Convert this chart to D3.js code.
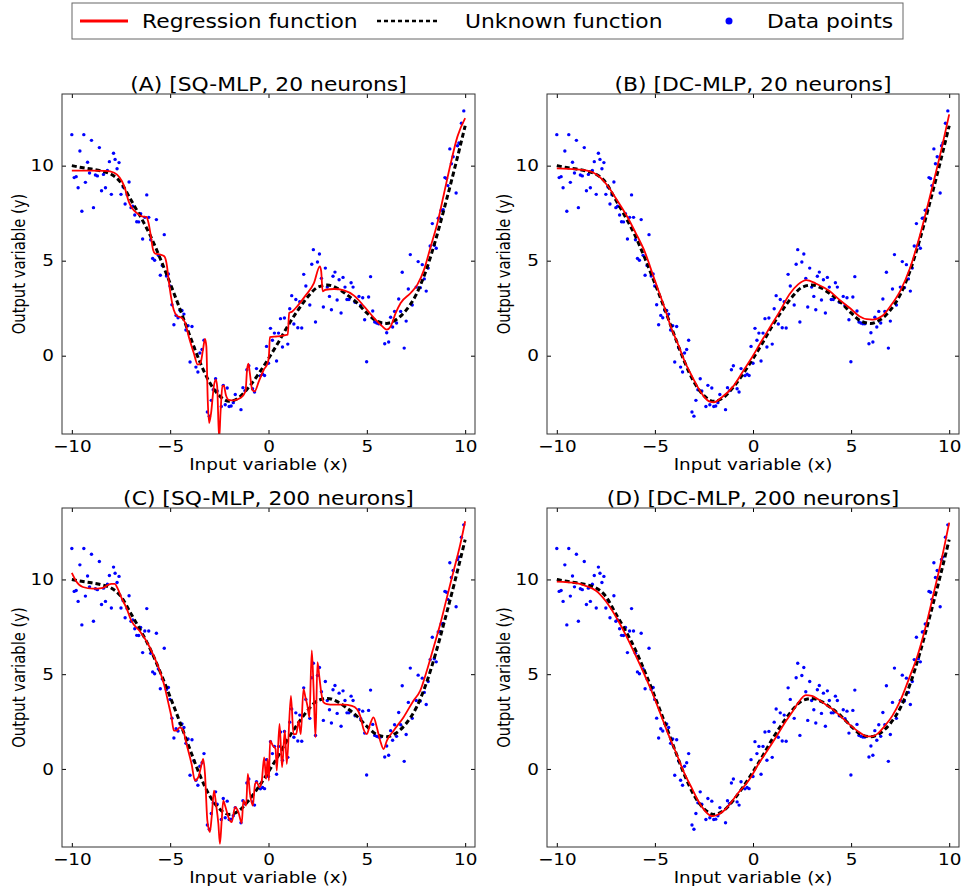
<!DOCTYPE html>
<html>
<head>
<meta charset="utf-8">
<script src="https://cdn.jsdelivr.net/npm/d3@7"></script>
<style>
  body { margin: 0; background: #fff; }
  svg { display: block; font-family: "DejaVu Sans", sans-serif; }
</style>
</head>
<body>
<svg id="chart" width="965" height="890"></svg>
<script>
// ---------------- DATA ----------------
const panelTitles = ["(A) [SQ-MLP, 20 neurons]", "(B) [DC-MLP, 20 neurons]", "(C) [SQ-MLP, 200 neurons]", "(D) [DC-MLP, 200 neurons]"];
const legendLabels = ["Regression function", "Unknown function", "Data points"];
const xTicks = [-10, -5, 0, 5, 10];
const yTicks = [0, 5, 10];
const xLabel = "Input variable (x)";
const yLabel = "Output variable (y)";

const dataPoints = [
  [-10.0,11.63],[-9.88,9.37],[-9.78,9.42],[-9.68,8.84],[-9.59,10.77],[-9.49,7.6],[-9.39,11.63],[-9.31,9.12],
  [-9.20,10.18],[-9.10,9.61],[-9.00,11.33],[-8.90,7.79],[-8.80,9.51],[-8.70,9.46],[-8.60,10.95],[-8.49,8.68],
  [-8.39,9.54],[-8.29,8.84],[-8.19,9.75],[-8.09,10.21],[-7.99,8.49],[-7.88,10.65],[-7.80,10.33],[-7.70,9.84],
  [-7.60,10.16],[-7.50,8.49],[-7.39,8.88],[-7.29,7.98],[-7.19,8.47],[-7.09,9.14],[-6.99,7.79],[-6.90,7.86],
  [-6.80,7.4],[-6.70,7.05],[-6.60,7.04],[-6.50,7.47],[-6.40,6.14],[-6.29,7.28],[-6.19,8.46],[-6.09,7.28],
  [-5.99,6.1],[-5.89,5.12],[-5.79,5.02],[-5.70,7.16],[-5.60,5.28],[-5.50,4.23],[-5.40,4.75],[-5.30,6.37],
  [-5.19,4.19],[-5.09,4.3],[-5.01,3.67],[-4.91,2.68],[-4.81,1.63],[-4.70,2.12],[-4.60,2.0],[-4.50,2.39],
  [-4.40,2.38],[-4.30,2.19],[-4.20,1.35],[-4.09,1.58],[-3.99,-0.33],[-3.89,1.54],[-3.79,0.42],[-3.69,-0.6],
  [-3.59,-0.86],[-3.49,0.14],[-3.38,0.33],[-3.28,0.81],[-3.11,-2.96],[-3.01,-3.18],[-2.91,-2.35],[-2.81,-1.79],
  [-2.69,-1.21],[-2.61,-1.86],[-2.40,-2.67],[-2.30,-1.56],[-2.20,-2.58],[-2.10,-1.70],[-2.00,-2.67],[-1.90,-2.65],
  [-1.79,-2.47],[-1.69,-2.04],[-1.40,-2.84],[-1.30,-1.68],[-1.20,-1.84],[-1.10,-0.74],[-1.00,-0.53],[-0.81,-1.74],
  [-0.71,-1.91],[-0.61,-0.68],[-0.41,-1.05],[-0.30,-0.98],[-0.20,-1.04],[-0.10,0.49],[0.00,-0.4],[0.10,1.44],
  [0.20,0.81],[0.30,1.19],[0.41,-0.28],[0.51,1.19],[0.61,1.95],[0.71,0.46],[0.81,1.98],[0.98,0.61],
  [1.08,2.47],[1.18,3.16],[1.29,1.67],[1.39,2.96],[1.49,1.47],[1.59,2.84],[1.69,1.46],[1.79,4.28],
  [1.90,3.67],[2.10,2.67],[2.20,4.81],[2.28,5.58],[2.39,1.77],[2.49,4.93],[2.59,5.35],[2.69,4.07],
  [2.79,2.56],[2.89,4.61],[2.99,3.61],[3.10,3.12],[3.20,2.42],[3.28,4.18],[3.38,4.4],[3.49,2.93],
  [3.59,4.0],[3.69,2.25],[3.79,4.12],[3.89,3.61],[3.99,2.96],[4.09,2.96],[4.20,3.84],[4.30,3.61],
  [4.40,2.81],[4.60,3.12],[4.69,2.65],[4.79,3.05],[4.89,1.89],[4.99,-0.32],[5.09,3.09],[5.19,4.16],
  [5.30,2.35],[5.40,1.77],[5.50,1.72],[5.60,1.68],[5.70,1.68],[5.91,0.63],[6.01,1.21],[6.11,0.72],
  [6.21,2.02],[6.31,1.51],[6.41,2.33],[6.51,1.72],[6.62,2.98],[6.72,2.33],[6.80,4.39],[6.90,0.40],
  [7.00,1.82],[7.11,3.51],[7.21,5.32],[7.31,2.67],[7.51,3.61],[7.61,4.95],[7.72,3.58],[7.82,4.79],
  [7.92,4.04],[8.02,3.40],[8.12,4.61],[8.22,5.77],[8.33,6.95],[8.43,5.81],[8.53,5.65],[8.63,7.23],
  [8.71,7.25],[8.78,7.65],[8.88,7.68],[8.97,9.37],[9.05,9.32],[9.12,8.95],[9.22,10.88],[9.30,10.1],
  [9.39,10.47],[9.54,8.56],[9.61,11.05],[9.68,11.19],[9.81,12.23],[9.93,12.88]
];

const unknownFunction = [
  [-10,10.0],[-9.5,9.9],[-9,9.82],[-8.5,9.72],[-8,9.55],[-7.5,9.1],[-7,8.2],[-6.5,7.3],[-6,6.3],
  [-5.5,5.1],[-5,3.8],[-4.5,2.45],[-4,1.05],[-3.5,-0.3],[-3,-1.4],[-2.5,-2.1],[-2,-2.4],[-1.5,-2.2],
  [-1,-1.65],[-0.5,-0.95],[0,-0.15],[0.5,0.7],[1,1.6],[1.5,2.4],[2,3.1],[2.5,3.6],[3,3.72],[3.5,3.55],
  [4,3.2],[4.5,2.78],[5,2.25],[5.5,1.82],[6,1.7],[6.5,1.9],[7,2.4],[7.5,3.2],[8,4.45],[8.5,6.1],
  [9,8.0],[9.5,10.0],[10,12.1]
];

const regressionA = [
  [-10,9.74],[-9,9.74],[-8.3,9.73],[-8.05,9.7],[-7.7,9.53],[-7.45,9.18],[-7.28,8.74],[-7.11,8.12],
  [-6.94,7.77],[-6.69,7.5],[-6.43,7.33],[-6.21,7.3],[-6.1,6.98],[-5.98,6.28],[-5.87,5.58],[-5.76,5.37],
  [-5.5,5.32],[-5.3,5.23],[-5.16,4.7],[-5.08,4.0],[-4.96,3.12],[-4.82,2.42],[-4.65,2.1],[-4.4,1.98],
  [-4.23,1.72],[-4.06,1.02],[-3.8,0.14],[-3.6,-0.47],[-3.46,-0.39],[-3.33,0.32],[-3.23,0.88],[-3.16,0.49],
  [-3.09,-2.32],[-3.02,-3.54],[-2.92,-3.02],[-2.78,-1.61],[-2.68,-1.26],[-2.61,-1.61],[-2.51,-4.4],
  [-2.44,-3.0],[-2.34,-1.61],[-2.27,-1.58],[-2.17,-2.05],[-2.02,-2.32],[-1.77,-2.35],[-1.43,-2.23],
  [-1.17,-1.88],[-1.09,-0.74],[-1.02,-0.42],[-0.95,-0.91],[-0.83,-1.79],[-0.71,-1.88],[-0.49,-1.35],
  [-0.24,-0.74],[-0.03,-0.35],[0.03,0.14],[0.07,0.98],[0.44,1.02],[0.98,1.11],[1.05,2.25],[1.21,2.33],
  [1.46,2.6],[1.88,3.16],[2.31,3.82],[2.61,4.7],[2.68,4.44],[2.75,3.39],[2.9,3.47],[3.33,3.51],[3.84,3.44],
  [4.35,3.16],[4.86,2.6],[5.37,1.98],[5.79,1.54],[6.01,1.37],[6.21,1.54],[6.47,2.25],[6.72,2.77],
  [7.23,3.3],[7.57,3.74],[7.91,4.53],[8.25,5.75],[8.59,6.98],[8.93,8.56],[9.27,10.14],[9.61,11.54],[10,12.5]
];

const regressionB = [
  [-10,9.86],[-9,9.8],[-8.4,9.72],[-8,9.55],[-7.4,8.93],[-7,8.3],[-6.38,7.26],[-6,6.5],[-5.53,5.5],
  [-5,3.95],[-4.5,2.5],[-4.17,1.47],[-3.8,0.55],[-3.49,-0.28],[-3.1,-1.1],[-2.8,-1.68],[-2.5,-2.15],
  [-2.2,-2.42],[-2.0,-2.45],[-1.6,-2.2],[-1.0,-1.6],[-0.5,-0.8],[0,0.0],[0.34,0.6],[0.85,1.47],
  [1.4,2.4],[1.86,3.23],[2.3,3.75],[2.71,3.98],[3.2,3.8],[3.9,3.4],[4.4,2.95],[4.92,2.52],[5.42,2.08],
  [5.8,1.92],[6.1,1.9],[6.6,2.1],[7,2.6],[7.5,3.4],[8,4.6],[8.5,6.3],[9,8.3],[9.5,10.4],[10,12.7]
];

const regressionC = [
  [-10,10.35],[-9.78,9.91],[-9.44,9.6],[-8.93,9.51],[-8.42,9.56],[-8.0,9.77],[-7.82,9.77],[-7.65,9.47],
  [-7.48,9.04],[-7.23,8.51],[-6.97,7.81],[-6.55,7.28],[-6.21,6.75],[-5.87,6.05],[-5.53,5.18],[-5.27,4.3],
  [-5.1,3.51],[-4.93,2.72],[-4.81,2.02],[-4.68,2.02],[-4.51,2.19],[-4.34,2.02],[-4.17,1.32],[-3.91,0.26],
  [-3.74,-0.61],[-3.57,-0.44],[-3.4,0.26],[-3.32,0.53],[-3.23,-0.26],[-3.11,-2.72],[-2.98,-3.33],
  [-2.89,-2.54],[-2.77,-1.14],[-2.67,-1.84],[-2.55,-2.89],[-2.47,-3.95],[-2.38,-2.72],[-2.3,-1.67],
  [-2.21,-1.93],[-2.04,-2.54],[-1.87,-2.81],[-1.7,-2.02],[-1.53,-2.28],[-1.36,-2.86],[-1.28,-1.67],
  [-1.14,-1.93],[-1.05,-0.26],[-0.94,-1.32],[-0.8,-1.93],[-0.68,-0.79],[-0.6,-0.7],[-0.46,-0.96],
  [-0.34,-0.61],[-0.22,0.61],[-0.12,-0.53],[-0.05,0.53],[0.02,-0.61],[0.08,1.49],[0.22,1.23],[0.36,1.05],
  [0.42,-0.09],[0.56,2.37],[0.69,0.09],[0.83,2.02],[0.93,0.26],[1.14,3.86],[1.27,1.84],[1.41,1.84],
  [1.53,2.54],[1.64,1.84],[1.78,4.21],[1.88,3.77],[1.98,3.33],[2.08,2.72],[2.2,6.26],[2.29,4.3],
  [2.39,1.67],[2.49,5.63],[2.59,4.82],[2.68,4.04],[2.8,3.51],[2.97,3.42],[3.31,3.39],[3.81,3.39],
  [4.24,3.33],[4.49,3.16],[4.66,2.81],[4.83,2.11],[5.0,1.84],[5.17,2.37],[5.34,2.72],[5.51,2.19],
  [5.68,1.49],[5.85,1.05],[6.02,1.49],[6.36,2.02],[6.86,2.72],[7.37,3.6],[7.71,4.12],[8.05,5.18],
  [8.39,6.4],[8.73,7.63],[9.07,9.04],[9.41,10.44],[9.75,11.84],[10,13.07]
];

const regressionD = [
  [-10,9.88],[-9,9.8],[-8.5,9.65],[-8,9.4],[-7.5,8.85],[-6.87,7.82],[-6.5,7.1],[-6.02,6.07],[-5.5,4.9],
  [-5.18,4.14],[-4.75,3.0],[-4.33,1.86],[-3.9,0.8],[-3.49,-0.25],[-3.1,-1.05],[-2.81,-1.65],[-2.5,-2.15],
  [-2.2,-2.45],[-2.05,-2.49],[-1.8,-2.42],[-1.46,-2.18],[-1.1,-1.75],[-0.78,-1.3],[-0.4,-0.85],[-0.1,-0.42],
  [0.3,0.3],[0.74,0.98],[1.2,1.72],[1.59,2.39],[2.0,3.0],[2.27,3.44],[2.69,3.9],[3.0,3.85],[3.28,3.7],
  [3.7,3.4],[4.13,3.09],[4.5,2.75],[4.97,2.3],[5.4,1.95],[5.82,1.72],[6.07,1.72],[6.4,1.9],[6.67,2.21],
  [7.1,2.8],[7.51,3.61],[8,4.9],[8.36,5.89],[8.8,7.5],[9.2,9.23],[9.6,11.0],[10,13.0]
];

const regressionSeries = [regressionA, regressionB, regressionC, regressionD];

// ---------------- LAYOUT ----------------
const svg = d3.select("#chart");
const panelBoxes = [
  {left: 62, top: 94, width: 413, height: 340},
  {left: 547, top: 94, width: 412, height: 340},
  {left: 62, top: 508, width: 413, height: 339},
  {left: 547, top: 508, width: 412, height: 339}
];
const xDomain = [-10.5, 10.5];
const yDomain = [-4.12, 13.77];
const red = "#ff0000", blue = "#0000ff";
const stretch = 1.15; // glyphs in the reference are horizontally widened

function label(parent, x, y, str, size, anchor) {
  return parent.append("g").attr("transform", `translate(${x},${y}) scale(${stretch},1)`)
    .append("text").attr("text-anchor", anchor || "start").attr("font-size", size).text(str);
}

panelBoxes.forEach((box, i) => {
  const x = d3.scaleLinear().domain(xDomain).range([0, box.width]);
  const y = d3.scaleLinear().domain(yDomain).range([box.height, 0]);
  const g = svg.append("g").attr("transform", `translate(${box.left},${box.top})`);

  const clipId = "clip" + i;
  g.append("clipPath").attr("id", clipId)
    .append("rect").attr("width", box.width).attr("height", box.height);
  const plot = g.append("g").attr("clip-path", `url(#${clipId})`);

  // data points
  plot.selectAll("circle").data(dataPoints).join("circle")
    .attr("cx", d => x(d[0])).attr("cy", d => y(d[1]))
    .attr("r", 1.7).attr("fill", blue);

  // unknown function (dashed)
  const line = d3.line().x(d => x(d[0])).y(d => y(d[1])).curve(d3.curveMonotoneX);
  plot.append("path").datum(unknownFunction)
    .attr("d", line).attr("fill", "none")
    .attr("stroke", "#000").attr("stroke-width", 3).attr("stroke-dasharray", "5,3");

  // regression function
  plot.append("path").datum(regressionSeries[i])
    .attr("d", line).attr("fill", "none")
    .attr("stroke", red).attr("stroke-width", 1.8).attr("stroke-linejoin", "round");

  // axes with inward ticks
  const xb = g.append("g").attr("transform", `translate(0,${box.height})`)
    .call(d3.axisBottom(x).tickValues(xTicks).tickSizeInner(-4).tickSizeOuter(0).tickPadding(7));
  const xt = g.append("g")
    .call(d3.axisTop(x).tickValues(xTicks).tickSizeInner(-4).tickSizeOuter(0).tickFormat(""));
  const yl = g.append("g")
    .call(d3.axisLeft(y).tickValues(yTicks).tickSizeInner(-4).tickSizeOuter(0).tickPadding(7));
  const yr = g.append("g").attr("transform", `translate(${box.width},0)`)
    .call(d3.axisRight(y).tickValues(yTicks).tickSizeInner(-4).tickSizeOuter(0).tickFormat(""));
  [xb, xt, yl, yr].forEach(a => {
    a.select(".domain").remove();
    a.selectAll("line").attr("stroke", "#000");
    a.selectAll("text").attr("font-size", 16).attr("font-family", "DejaVu Sans").attr("fill", "#000")
      .attr("transform", `scale(${stretch},1)`);
  });

  // frame
  g.append("rect").attr("width", box.width).attr("height", box.height)
    .attr("fill", "none").attr("stroke", "#333").attr("stroke-width", 1);

  // title
  label(g, box.width / 2, -3, panelTitles[i], 19, "middle");

  // axis labels
  label(g, box.width / 2, box.height + 36, xLabel, 16, "middle");
  g.append("g").attr("transform", `translate(-37,${box.height / 2}) scale(${stretch},1) rotate(-90)`)
    .append("text").attr("text-anchor", "middle").attr("font-size", 14.8).text(yLabel);
});

// ---------------- LEGEND ----------------
const legend = svg.append("g");
legend.append("rect").attr("x", 72).attr("y", 3).attr("width", 831).attr("height", 36)
  .attr("fill", "#fff").attr("stroke", "#666").attr("stroke-width", 1);
legend.append("line").attr("x1", 80).attr("x2", 128).attr("y1", 21).attr("y2", 21)
  .attr("stroke", red).attr("stroke-width", 3);
label(legend, 142, 28, legendLabels[0], 19);
legend.append("line").attr("x1", 377).attr("x2", 440).attr("y1", 21).attr("y2", 21)
  .attr("stroke", "#000").attr("stroke-width", 2.5).attr("stroke-dasharray", "4,3");
label(legend, 465, 28, legendLabels[1], 19);
legend.append("circle").attr("cx", 729).attr("cy", 21).attr("r", 3.5).attr("fill", blue);
label(legend, 767, 28, legendLabels[2], 19);
</script>
</body>
</html>
